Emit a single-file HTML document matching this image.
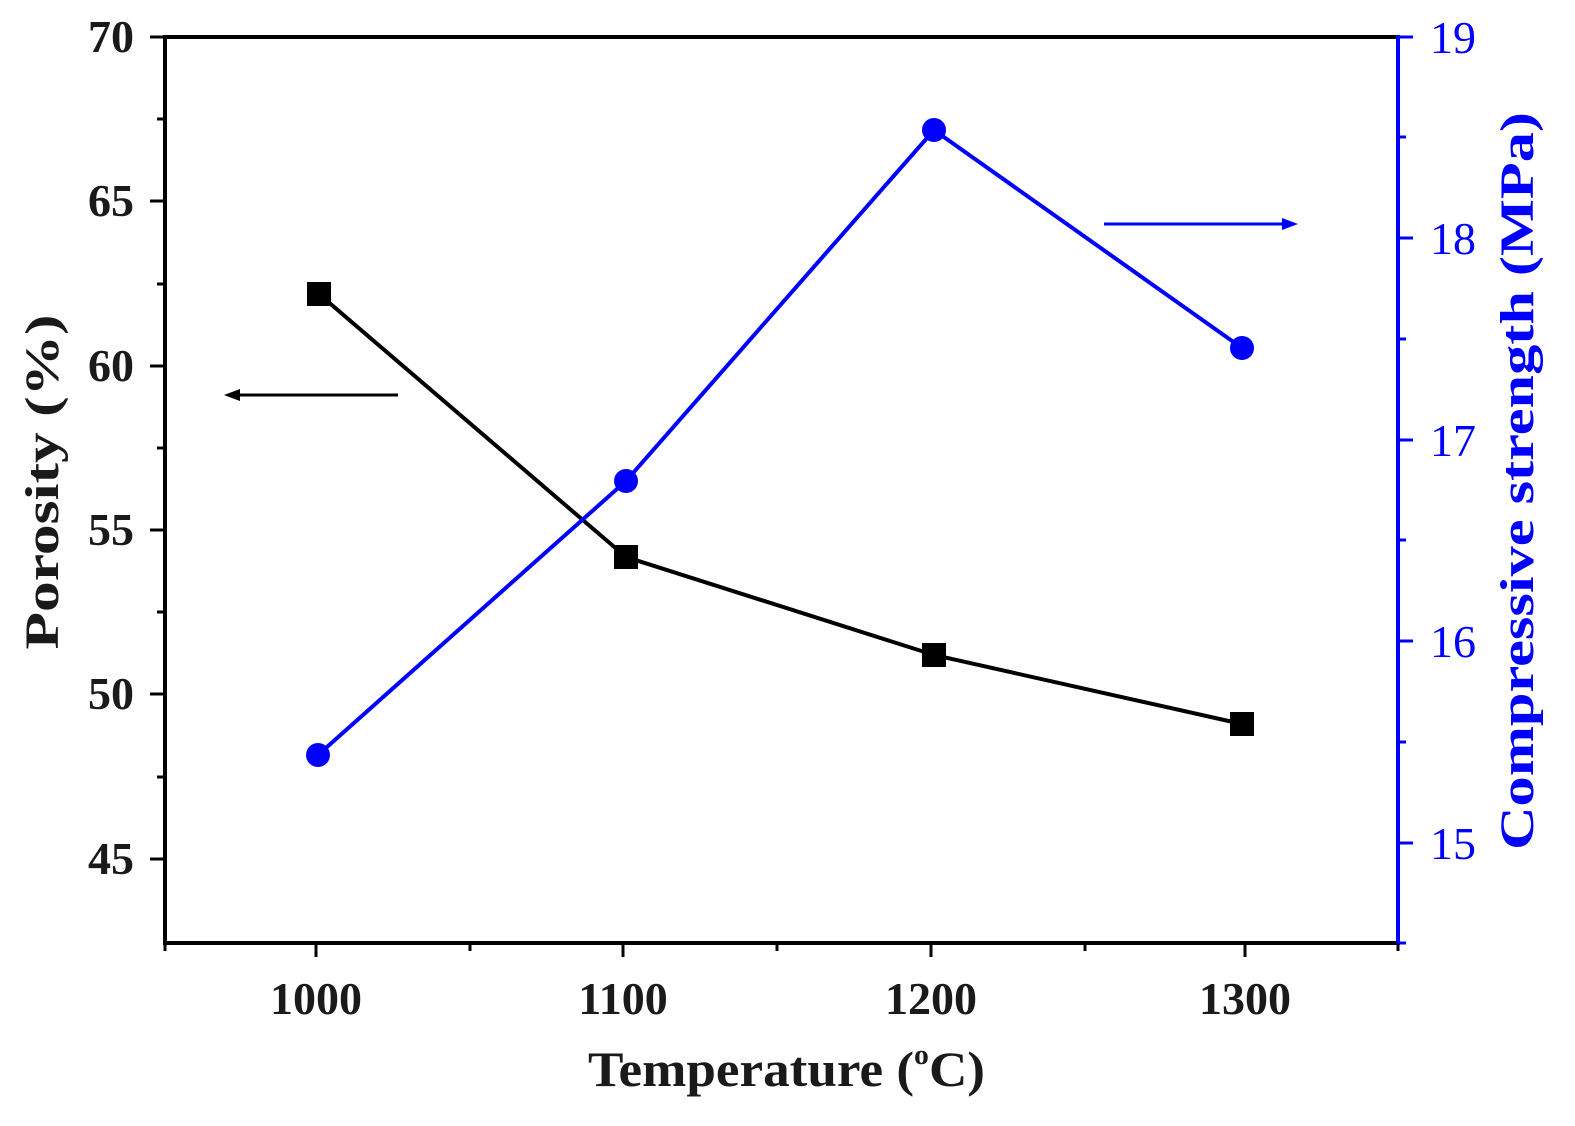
<!DOCTYPE html>
<html><head><style>body{margin:0;background:#fff}</style></head><body>
<svg width="1575" height="1121" xmlns="http://www.w3.org/2000/svg" font-family="Liberation Serif, serif" font-weight="bold">
<rect width="1575" height="1121" fill="#fff"/>
<line x1="163" y1="37" x2="1398" y2="37" stroke="#000" stroke-width="4"/>
<line x1="165" y1="35" x2="165" y2="945" stroke="#000" stroke-width="4"/>
<line x1="163" y1="943" x2="1398" y2="943" stroke="#000" stroke-width="4"/>
<line x1="1398" y1="35" x2="1398" y2="945" stroke="#0000ff" stroke-width="4"/>
<g stroke="#000" stroke-width="3">
<line x1="150" y1="37" x2="165" y2="37"/><line x1="150" y1="201" x2="165" y2="201"/><line x1="150" y1="366" x2="165" y2="366"/><line x1="150" y1="530" x2="165" y2="530"/><line x1="150" y1="694" x2="165" y2="694"/><line x1="150" y1="859" x2="165" y2="859"/>
<line x1="157" y1="119" x2="165" y2="119"/><line x1="157" y1="284" x2="165" y2="284"/><line x1="157" y1="448" x2="165" y2="448"/><line x1="157" y1="612" x2="165" y2="612"/><line x1="157" y1="777" x2="165" y2="777"/>
<line x1="316" y1="943" x2="316" y2="957"/><line x1="623" y1="943" x2="623" y2="957"/><line x1="931" y1="943" x2="931" y2="957"/><line x1="1245" y1="943" x2="1245" y2="957"/>
<line x1="165" y1="943" x2="165" y2="951"/><line x1="470" y1="943" x2="470" y2="951"/><line x1="777" y1="943" x2="777" y2="951"/><line x1="1085" y1="943" x2="1085" y2="951"/><line x1="1398" y1="943" x2="1398" y2="951"/>
</g>
<g stroke="#0000ff" stroke-width="3">
<line x1="1398" y1="37" x2="1413" y2="37"/><line x1="1398" y1="238" x2="1413" y2="238"/><line x1="1398" y1="440" x2="1413" y2="440"/><line x1="1398" y1="641" x2="1413" y2="641"/><line x1="1398" y1="843" x2="1413" y2="843"/>
<line x1="1398" y1="137" x2="1406" y2="137"/><line x1="1398" y1="339" x2="1406" y2="339"/><line x1="1398" y1="540" x2="1406" y2="540"/><line x1="1398" y1="742" x2="1406" y2="742"/><line x1="1398" y1="943" x2="1406" y2="943"/>
</g>
<g font-size="46" text-anchor="end" fill="#1a1a1a">
<text x="134" y="52">70</text><text x="134" y="216">65</text><text x="134" y="381">60</text><text x="134" y="545">55</text><text x="134" y="709">50</text><text x="134" y="874">45</text>
</g>
<g font-size="46" text-anchor="middle" fill="#1a1a1a">
<text x="316" y="1014">1000</text><text x="623" y="1014">1100</text><text x="931" y="1014">1200</text><text x="1245" y="1014">1300</text>
</g>
<g font-size="46" font-weight="normal" fill="#0000ff">
<text x="1430" y="53">19</text><text x="1430" y="254">18</text><text x="1430" y="456">17</text><text x="1430" y="657">16</text><text x="1430" y="859">15</text>
</g>
<text x="588" y="1086" font-size="50" textLength="397" lengthAdjust="spacingAndGlyphs" fill="#1a1a1a">Temperature (<tspan font-size="28" dy="-22">o</tspan><tspan dy="22">C)</tspan></text>
<text transform="translate(58,482) rotate(-90)" font-size="48" text-anchor="middle" textLength="335" lengthAdjust="spacingAndGlyphs" fill="#1a1a1a">Porosity (%)</text>
<text transform="translate(1533,481) rotate(-90)" font-size="48" text-anchor="middle" textLength="738" lengthAdjust="spacingAndGlyphs" fill="#0000ff">Compressive strength (MPa)</text>
<polyline points="319,294 626,557 934,655 1242,724" fill="none" stroke="#000" stroke-width="4"/>
<g fill="#000"><rect x="307" y="282" width="24" height="24"/><rect x="614" y="545" width="24" height="24"/><rect x="922" y="643" width="24" height="24"/><rect x="1230" y="712" width="24" height="24"/></g>
<polyline points="318,755 626,481 934,130 1242,348" fill="none" stroke="#0000ff" stroke-width="4"/>
<g fill="#0000ff"><circle cx="318" cy="755" r="12"/><circle cx="626" cy="481" r="12"/><circle cx="934" cy="130" r="12"/><circle cx="1242" cy="348" r="12"/></g>
<line x1="398" y1="395" x2="235" y2="395" stroke="#000" stroke-width="3"/>
<polygon points="224,395 240,389 240,401" fill="#000"/>
<line x1="1104" y1="224" x2="1285" y2="224" stroke="#0000ff" stroke-width="3"/>
<polygon points="1298,224 1282,218 1282,230" fill="#0000ff"/>
</svg>
</body></html>
